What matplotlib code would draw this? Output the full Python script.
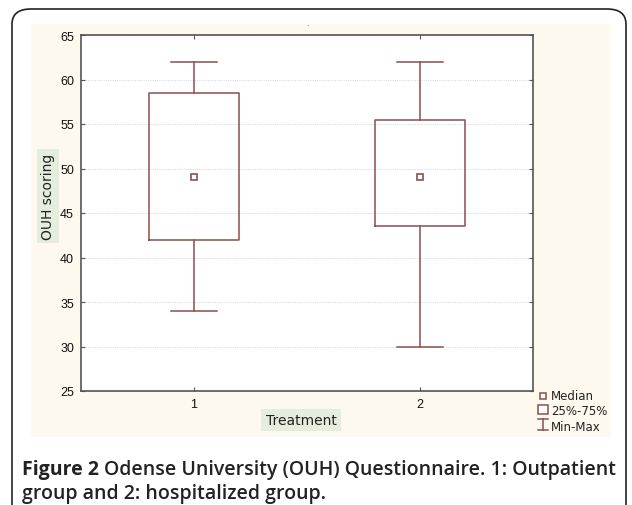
import matplotlib
matplotlib.use("Agg")
import matplotlib.pyplot as plt
from matplotlib.patches import FancyBboxPatch, Rectangle
from matplotlib.lines import Line2D

# -----------------------------
# Datos
# -----------------------------
grupos = [1, 2]
minimos = [34, 30]
q1 = [42, 43.5]
medianas = [49, 49]
q3 = [58.5, 55.5]
maximos = [62, 62]

y_ticks = [25, 30, 35, 40, 45, 50, 55, 60, 65]
leyenda = ["Median", "25%-75%", "Min-Max"]

color_caja = "#8a4f4f"
color_crema = "#fdf9ee"
color_verde = "#e5eedc"
W, H = 632, 506

fig = plt.figure(figsize=(W / 100, H / 100), dpi=100)
fig.patch.set_facecolor("white")

def fx(px):
    return px / W

def fy(py):
    return 1 - py / H

# marco redondeado exterior (abierto por abajo, fuera del lienzo)
marco = FancyBboxPatch((fx(12), -0.2), fx(614), fy(10) + 0.2,
                       boxstyle="round,pad=0,rounding_size=0.03",
                       transform=fig.transFigure, fc="white", ec="#222222",
                       lw=1.2, zorder=-3)
fig.add_artist(marco)

# panel crema
fig.add_artist(Rectangle((fx(31), fy(438)), fx(580), fy(25) - fy(438),
                         transform=fig.transFigure, fc=color_crema, ec="none",
                         zorder=-2))

ax = fig.add_axes([fx(81), fy(392), fx(533 - 81), fy(36) - fy(392)])
ax.set_facecolor("white")

stats = []
for i in range(len(grupos)):
    stats.append({"med": medianas[i], "q1": q1[i], "q3": q3[i],
                  "whislo": minimos[i], "whishi": maximos[i], "fliers": []})

ax.bxp(stats, positions=grupos, widths=0.4, capwidths=0.2, showfliers=False,
       boxprops=dict(color=color_caja, lw=1.1),
       whiskerprops=dict(color=color_caja, lw=1.1),
       capprops=dict(color=color_caja, lw=1.1),
       medianprops=dict(lw=0))
ax.plot(grupos, medianas, "s", ms=5, mfc="white", mec=color_caja, mew=1.2, zorder=5)

ax.set_xlim(0.5, 2.5)
ax.set_ylim(25, 65)
ax.set_xticks(grupos)
ax.set_xticklabels([str(g) for g in grupos])
ax.set_yticks(y_ticks)
ax.yaxis.grid(True, ls=(0, (1, 1)), color="#dcdcdc", lw=0.8)
ax.set_axisbelow(True)
ax.tick_params(direction="in", length=3, top=True, right=True, color="#555555",
               labelsize=9, pad=5, labelcolor="#111111")
for lab in ax.get_xticklabels() + ax.get_yticklabels():
    lab.set_fontfamily("Liberation Sans")
for s in ax.spines.values():
    s.set_color("#555555")
    s.set_linewidth(1.2)

# etiquetas de ejes con fondo verde
fig.text(fx(301), fy(421), "Treatment", ha="center", va="center", fontsize=10,
         family="DejaVu Sans", color="#222222",
         bbox=dict(fc=color_verde, ec="none", boxstyle="square,pad=0.3"))
fig.text(fx(48), fy(197), "OUH scoring", ha="center", va="center", fontsize=10,
         rotation=90, family="DejaVu Sans", color="#222222",
         bbox=dict(fc=color_verde, ec="none", boxstyle="square,pad=0.3"))
fig.text(fx(307), fy(24), ".", ha="center", va="center", fontsize=6, color="#555555")

# leyenda manual
fig.add_artist(Line2D([fx(543)], [fy(397)], marker="s", ms=4, mfc="white",
                      mec=color_caja, mew=1.1, ls="none"))
fig.add_artist(Rectangle((fx(538), fy(415)), fx(10), fy(406) - fy(415),
                         transform=fig.transFigure, fc="white", ec=color_caja, lw=1.1))
fig.add_artist(Line2D([fx(543), fx(543)], [fy(420), fy(431)], color=color_caja, lw=1.1))
fig.add_artist(Line2D([fx(538), fx(548)], [fy(420), fy(420)], color=color_caja, lw=1.1))
fig.add_artist(Line2D([fx(538), fx(548)], [fy(431), fy(431)], color=color_caja, lw=1.1))
for texto, py in zip(leyenda, [397, 412, 428]):
    fig.text(fx(551), fy(py), texto, ha="left", va="center", fontsize=8.5,
             family="DejaVu Sans", color="#222222")

# pie de figura
t1 = fig.text(fx(22), fy(470), "Figure 2", ha="left", va="center", fontsize=14,
              weight="bold", family="Open Sans", color="#222222")
fig.canvas.draw()
bb = t1.get_window_extent()
x_sig = bb.x1 / fig.bbox.width + fx(5)
fig.text(x_sig, fy(470), "Odense University (OUH) Questionnaire. 1: Outpatient",
         ha="left", va="center", fontsize=14, weight="semibold",
         family="Open Sans", color="#222222")
fig.text(fx(22), fy(494), "group and 2: hospitalized group.", ha="left", va="center",
         fontsize=14, weight="semibold", family="Open Sans", color="#222222")

fig.savefig("out.png", dpi=100)
